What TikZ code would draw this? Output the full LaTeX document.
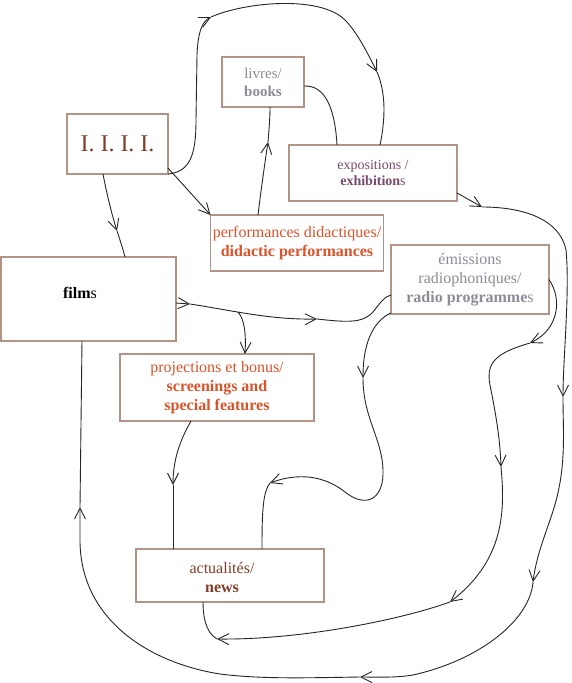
\documentclass[tikz,border=0pt]{standalone}
\usepackage{fontspec}
\setmainfont{Liberation Serif}
\usetikzlibrary{arrows.meta}
\definecolor{bordercol}{RGB}{178,148,134}
\definecolor{browntxt}{RGB}{128,62,40}
\definecolor{greytxt}{RGB}{140,139,152}
\definecolor{purpletxt}{RGB}{122,74,108}
\definecolor{orangetxt}{RGB}{217,84,43}
\begin{document}
\begin{tikzpicture}[x=1pt,y=-1pt,
  box/.style={draw=bordercol,line width=1.2pt,inner sep=0pt,outer sep=0pt,fill=white,align=center,font=\fontsize{16}{19}\selectfont},
  conn/.style={line width=0.9pt,draw=black!85},
  arrowend/.style={-{Straight Barb[length=11pt,width=11pt]}}]
\useasboundingbox[fill=white] (0,0) rectangle (572,683);

% boxes
\node[box,minimum width=101pt,minimum height=60pt,text=browntxt,font=\fontsize{24}{28}\selectfont] (I) at (117.5,144) {I. I. I. I.};
\node[box,minimum width=82pt,minimum height=50pt,text=greytxt,font=\fontsize{15}{18}\selectfont] (livres) at (263,82) {livres/\\\textbf{books}};
\node[box,minimum width=168pt,minimum height=56pt,text=purpletxt,font=\fontsize{14}{16}\selectfont] (expo) at (373,173) {expositions /\\\textbf{exhibition}s};
\node[box,minimum width=173pt,minimum height=56pt,text=orangetxt] (perf) at (297,243) {performances didactiques/\\\textbf{didactic performances}};
\node[box,minimum width=158pt,minimum height=69pt,text=greytxt] (radio) at (470,279.5) {émissions\\radiophoniques/\\\textbf{radio programme}s};
\node[box,minimum width=175pt,minimum height=84pt,label={[xshift=-8.5pt,yshift=6pt,font=\fontsize{16}{19}\selectfont]center:\textbf{film}s}] (films) at (88.5,299) {};
\node[box,minimum width=194pt,minimum height=67pt,text=orangetxt] (proj) at (217,387.5) {projections et bonus/\\\textbf{screenings and}\\\textbf{special features}};
\node[box,minimum width=188pt,minimum height=53pt,label={[xshift=-8pt,yshift=-2pt,text=browntxt,align=center,font=\fontsize{16}{19}\selectfont]center:actualités/\\\textbf{news}}] (news) at (230,575.5) {};

% waypoints (arrow positions)
\coordinate (a1) at (117,231);
\coordinate (a3a) at (211,17);
\coordinate (a3b) at (377,72);
\coordinate (a4) at (268,142);
\coordinate (a6a) at (482,207);
\coordinate (a6b) at (563,397);
\coordinate (a6c) at (533,582);
\coordinate (a6d) at (360,677);
\coordinate (a6e) at (80,507);
\coordinate (a7a) at (190,304);
\coordinate (a7b) at (317,319);
\coordinate (br) at (238,312);
\coordinate (a9a) at (363,378);
\coordinate (a9b) at (270,483);
\coordinate (a10a) at (530,343);
\coordinate (a10b) at (501,467);
\coordinate (a10c) at (450,602);
\coordinate (a10d) at (217,639);
\coordinate (a11) at (173,485);

% I -> films
\draw[conn,arrowend] ([xshift=-14.5pt]I.south) .. controls (107,195) and (112,215) .. (a1);
\draw[conn] (a1) .. controls (120,240) and (123,249) .. ([xshift=36.5pt]films.north);
% I -> performances
\draw[conn,arrowend] ([yshift=6pt]I.south east) -- (perf.north west);
% I -> expositions (over the top)
\draw[conn,arrowend] (I.south east) .. controls (190,172) and (196,155) .. (196,120) -- (197,55) .. controls (198,30) and (203,21) .. (a3a);
\draw[conn,arrowend] (a3a) .. controls (245,2) and (320,-5) .. (345,20) .. controls (358,33) and (370,58) .. (a3b);
\draw[conn] (a3b) .. controls (384,88) and (387,112) .. ([xshift=7pt]expo.north);
% performances -> livres
\draw[conn,arrowend] ([xshift=-39pt]perf.north) .. controls (261,190) and (265,162) .. (a4);
\draw[conn] (a4) .. controls (269,130) and (270,118) .. ([xshift=7pt]livres.south);
% livres -- expositions
\draw[conn] ([yshift=-4pt]livres.east) .. controls (326,85) and (335,110) .. ([xshift=-36pt]expo.north);
% expositions -> films (round the right and bottom)
\draw[conn,arrowend] ([yshift=8pt]expo.south east) -- (a6a);
\draw[conn,arrowend] (a6a) .. controls (525,207) and (560,220) .. (566,250) .. controls (570,290) and (563,360) .. (a6b);
\draw[conn,arrowend] (a6b) .. controls (563,430) and (566,460) .. (557,497) .. controls (550,525) and (537,550) .. (a6c);
\draw[conn,arrowend] (a6c) .. controls (530,620) and (480,660) .. (413,675) .. controls (395,678) and (375,677) .. (a6d);
\draw[conn,arrowend] (a6d) .. controls (300,678) and (260,679) .. (220,674) .. controls (150,663) and (80,620) .. (80,540) -- (a6e);
\draw[conn] (a6e) -- ([xshift=-6.5pt]films.south);
% films -> radio
\draw[conn,arrowend] ([yshift=-4pt]films.east) -- (a7a);
\draw[conn,arrowend] (a7a) .. controls (230,310) and (270,320) .. (a7b);
\draw[conn] (a7b) .. controls (345,322) and (362,324) .. (373,312) .. controls (380,303) and (385,296) .. ([yshift=-15.5pt]radio.west);
% films -> projections (branch)
\draw[conn,arrowend] (br) .. controls (245,320) and (246,335) .. ([xshift=28pt]proj.north);
% radio -> news (top)
\draw[conn,arrowend] ([yshift=1pt]radio.south west) .. controls (375,320) and (363,340) .. (a9a);
\draw[conn,arrowend] (a9a) .. controls (363,420) and (384,440) .. (383,475) .. controls (382,500) and (365,508) .. (345,492) .. controls (330,480) and (305,470) .. (a9b);
\draw[conn] (a9b) .. controls (263,492) and (262,510) .. ([xshift=32pt]news.north);
% radio -> news (bottom)
\draw[conn,arrowend] (radio.east) .. controls (563,300) and (558,330) .. (a10a);
\draw[conn,arrowend] (a10a) .. controls (500,352) and (485,360) .. (490,385) .. controls (497,420) and (500,440) .. (a10b);
\draw[conn,arrowend] (a10b) .. controls (505,510) and (505,560) .. (a10c);
\draw[conn,arrowend] (a10c) .. controls (400,620) and (300,640) .. (a10d);
\draw[conn] (a10d) .. controls (205,632) and (203,615) .. ([xshift=-27pt]news.south);
% projections -> news
\draw[conn,arrowend] ([xshift=-26pt]proj.south) .. controls (180,440) and (173,460) .. (a11);
\draw[conn] (a11) -- ([xshift=-57pt]news.north);
\end{tikzpicture}
\end{document}
